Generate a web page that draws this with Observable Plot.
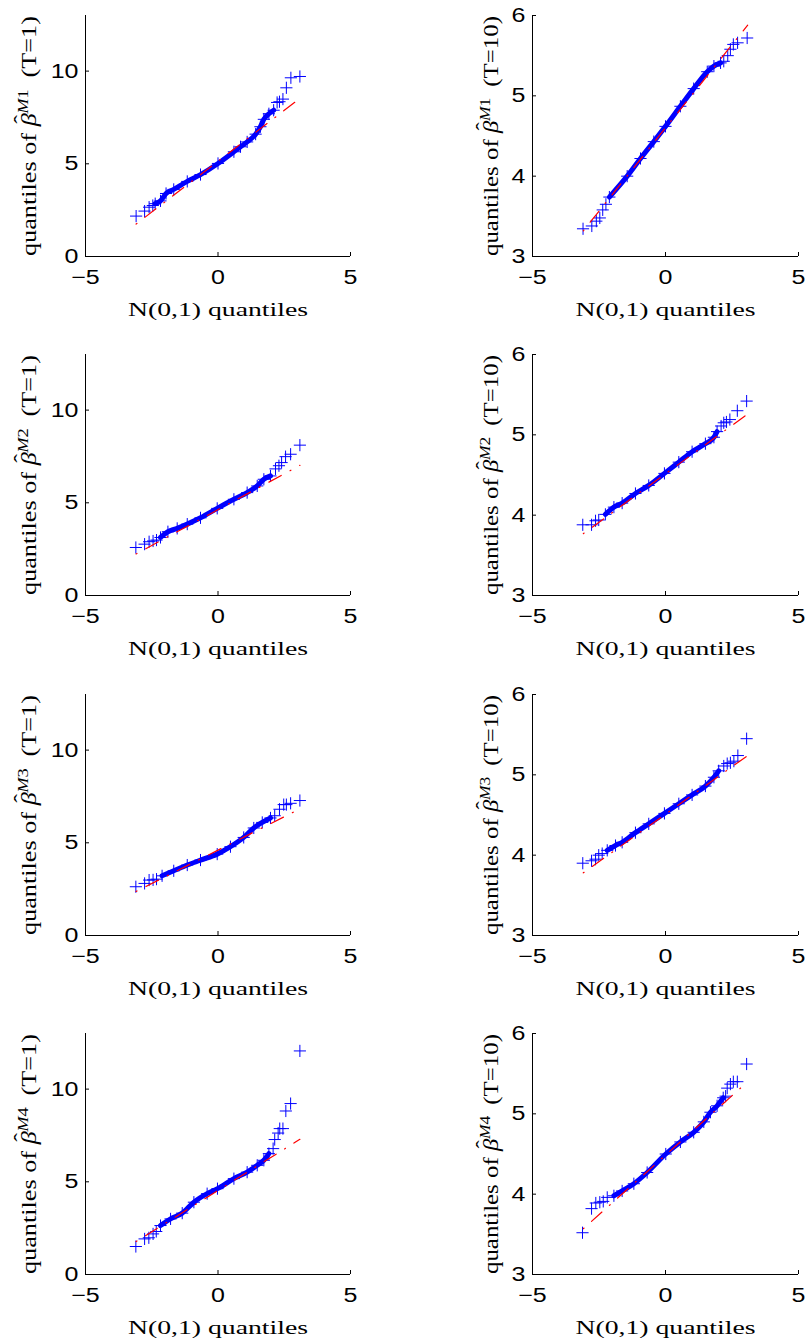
<!DOCTYPE html>
<html><head><meta charset="utf-8">
<script src="https://cdn.jsdelivr.net/npm/d3@7"></script>
<script src="https://cdn.jsdelivr.net/npm/@observablehq/plot@0.6"></script>
<style>
body{margin:0;background:#fff;}
#wrap{position:relative;width:806px;height:1343px;overflow:hidden;}
#wrap svg{position:absolute;}
</style></head><body><div id="wrap"></div>
<script>
// ---- tick labels / scales ----
const xTicks = [-5, 0, 5];
const yTicksT1 = [0, 5, 10];
const yTicksT10 = [3, 4, 5, 6];
const xLabel = "N(0,1) quantiles";
const modelLabels = ["M1", "M2", "M3", "M4"];
const horizonLabels = ["T=1", "T=10"];

// ---- data: [N(0,1) quantile, sample quantile] ----
// M1, T=1
const m1t1Tails = [[-3.09,2.18],[-2.77,2.45],[-2.6,2.66],[-2.46,2.75],[2.23,8.31],[2.32,8.35],[2.45,8.49],[2.58,9.10],[2.75,9.64],[3.09,9.71]];
const m1t1Band = [[-2.37,2.85],[-2.17,3.0],[-1.96,3.4],[-1.67,3.62],[-1.16,4.05],[-0.66,4.42],[0,5.02],[0.6,5.65],[0.85,5.92],[1.1,6.18],[1.42,6.6],[1.6,7.0],[1.73,7.4],[1.92,7.7],[2.1,7.89]];
const m1t1Ref = [[-3.09,1.75],[3.09,8.53]];
// M1, T=10
const m1t10Tails = [[-3.1,3.345],[-2.77,3.38],[-2.6,3.44],[-2.47,3.48],[-2.36,3.58],[-2.24,3.65],[2.19,5.43],[2.34,5.50],[2.44,5.58],[2.55,5.64],[2.71,5.66],[3.07,5.72]];
const m1t10Band = [[-2.11,3.74],[-1.44,4.0],[-0.94,4.22],[-0.44,4.43],[0,4.62],[0.56,4.87],[1.06,5.09],[1.57,5.3],[1.82,5.37],[2.07,5.41]];
const m1t10Ref = [[-3.09,3.32],[3.09,5.88]];
// M2, T=1
const m2t1Tails = [[-3.1,2.59],[-2.77,2.77],[-2.6,2.9],[-2.45,2.94],[-2.32,2.99],[2.17,6.83],[2.3,7.0],[2.4,7.17],[2.55,7.49],[2.74,7.62],[3.09,8.11]];
const m2t1Band = [[-2.17,3.13],[-1.89,3.44],[-1.54,3.62],[-1.16,3.85],[-0.66,4.19],[-0.03,4.70],[0.6,5.19],[1.1,5.55],[1.48,5.91],[1.73,6.27],[1.98,6.45]];
const m2t1Ref = [[-3.09,2.24],[3.09,7.02]];
// M2, T=10
const m2t10Tails = [[-3.11,3.88],[-2.78,3.88],[-2.63,3.93],[-2.51,3.94],[2.09,5.11],[2.19,5.15],[2.29,5.16],[2.42,5.19],[2.7,5.30],[3.05,5.42]];
const m2t10Band = [[-2.26,4.01],[-1.94,4.10],[-1.63,4.15],[-1.13,4.27],[-0.63,4.37],[-0.04,4.52],[0.5,4.66],[1.0,4.79],[1.5,4.89],[1.82,4.97],[1.94,5.04]];
const m2t10Ref = [[-3.09,3.77],[3.09,5.26]];
// M3, T=1
const m3t1Tails = [[-3.1,2.63],[-2.77,2.81],[-2.6,2.99],[-2.45,3.0],[-2.32,3.04],[2.14,6.46],[2.32,6.81],[2.48,7.06],[2.58,7.06],[2.74,7.13],[3.09,7.28]];
const m3t1Band = [[-2.11,3.22],[-1.67,3.49],[-1.16,3.8],[-0.66,4.07],[-0.03,4.39],[0.47,4.79],[0.97,5.29],[1.35,5.8],[1.67,6.1],[1.98,6.34]];
const m3t1Ref = [[-3.09,2.38],[3.09,6.83]];
// M3, T=10
const m3t10Tails = [[-3.11,3.90],[-2.78,3.93],[-2.63,3.95],[-2.51,4.0],[-2.38,4.02],[2.19,5.11],[2.32,5.14],[2.44,5.15],[2.57,5.17],[2.72,5.24],[3.05,5.45]];
const m3t10Band = [[-2.19,4.06],[-1.88,4.12],[-1.63,4.16],[-1.13,4.28],[-0.63,4.39],[-0.04,4.52],[0.5,4.64],[1.0,4.75],[1.5,4.86],[1.82,4.97],[2.0,5.05]];
const m3t10Ref = [[-3.09,3.78],[3.09,5.24]];
// M4, T=1
const m4t1Tails = [[-3.1,1.51],[-2.77,1.92],[-2.61,1.98],[-2.45,2.19],[-2.33,2.32],[2.08,6.79],[2.14,7.28],[2.27,7.63],[2.33,7.87],[2.45,7.87],[2.56,8.82],[2.74,9.22],[3.09,12.06]];
const m4t1Band = [[-2.17,2.64],[-1.79,3.0],[-1.35,3.31],[-0.91,3.9],[-0.41,4.36],[-0.02,4.63],[0.6,5.17],[1.1,5.52],[1.48,5.89],[1.73,6.16],[1.92,6.52]];
const m4t1Ref = [[-3.09,1.78],[3.09,7.29]];
// M4, T=10
const m4t10Tails = [[-3.12,3.52],[-2.78,3.82],[-2.62,3.89],[-2.47,3.90],[-2.34,3.91],[-2.19,3.96],[2.26,5.22],[2.32,5.32],[2.44,5.37],[2.55,5.40],[2.7,5.40],[3.05,5.62]];
const m4t10Band = [[-1.94,3.98],[-1.63,4.04],[-1.19,4.13],[-0.69,4.27],[0.01,4.5],[0.56,4.65],[1.06,4.77],[1.44,4.9],[1.69,5.02],[1.94,5.1],[2.17,5.2]];
const m4t10Ref = [[-3.09,3.57],[3.09,5.40]];

const panels = [
  {m:0,t:0,tails:m1t1Tails,band:m1t1Band,ref:m1t1Ref},
  {m:0,t:1,tails:m1t10Tails,band:m1t10Band,ref:m1t10Ref},
  {m:1,t:0,tails:m2t1Tails,band:m2t1Band,ref:m2t1Ref},
  {m:1,t:1,tails:m2t10Tails,band:m2t10Band,ref:m2t10Ref},
  {m:2,t:0,tails:m3t1Tails,band:m3t1Band,ref:m3t1Ref},
  {m:2,t:1,tails:m3t10Tails,band:m3t10Band,ref:m3t10Ref},
  {m:3,t:0,tails:m4t1Tails,band:m4t1Band,ref:m4t1Ref},
  {m:3,t:1,tails:m4t10Tails,band:m4t10Band,ref:m4t10Ref}
];

const serif = "'Liberation Serif', 'Times New Roman', serif";
const sans = "'Liberation Sans', Arial, Helvetica, sans-serif";
const BLUE = "#0000ff", RED = "#ff0000";
const wrap = document.getElementById("wrap");
const fmt = d3.format("d");

for (const p of panels) {
  const left = p.t === 0;
  const yDomain = left ? [0, 13] : [3, 6];
  const yTicks = left ? yTicksT1 : yTicksT10;
  const W = 403, H = 339;
  const svg = Plot.plot({
    width: W, height: H,
    marginLeft: left ? 85 : 129, marginRight: left ? 53 : 8,
    marginTop: 15, marginBottom: 83,
    x: {domain: [-5, 5], axis: null},
    y: {domain: yDomain, axis: null},
    style: {fontFamily: sans, fontSize: "20px", color: "#000", background: "transparent", overflow: "visible"},
    marks: [
      Plot.ruleY([yDomain[0]], {stroke: "#000", strokeWidth: 1}),
      Plot.ruleX([-5], {stroke: "#000", strokeWidth: 1}),
      Plot.axisX(xTicks, {tickSize: -4, fill: "none", stroke: "#000"}),
      Plot.axisX(xTicks, {tickSize: 0, tickPadding: 13, fill: "#000", fontSize: 20, tickFormat: fmt}),
      Plot.axisY(yTicks, {tickSize: -4, fill: "none", stroke: "#000"}),
      Plot.axisY(yTicks, {tickSize: 0, tickPadding: 7, fill: "#000", fontSize: 20, tickFormat: fmt}),
      Plot.line(p.band, {x: d => d[0], y: d => d[1], stroke: BLUE, strokeWidth: 5, strokeLinecap: "round", strokeLinejoin: "round", curve: "monotone-x"}),
      Plot.dot(p.band.concat(p.tails), {x: d => d[0], y: d => d[1], symbol: "plus", r: 4, stroke: BLUE, strokeWidth: 1}),
      Plot.line(p.ref, {x: d => d[0], y: d => d[1], stroke: RED, strokeWidth: 1.2, strokeDasharray: "1,10,14,10"}),
      Plot.text([xLabel], {frameAnchor: "bottom", dy: 59, lineAnchor: "bottom", fontFamily: serif, fontSize: 19, fill: "#000"}),
      Plot.text(["YLABEL"], {frameAnchor: "left", dx: left ? -56 : -41, rotate: -90, lineAnchor: "middle", textAnchor: "middle", fontFamily: serif, fontSize: 20, fill: "#000"})
    ]
  });
  svg.style.left = (left ? 0 : 403) + "px";
  svg.style.top = Math.round(p.m * 339.3) + "px";
  wrap.appendChild(svg);
  const sel = d3.select(svg);
  // y label with hatted beta and superscript model name
  const t = sel.selectAll("text").filter(function() { return this.textContent === "YLABEL"; });
  t.text(null);
  t.append("tspan").text("quantiles of ");
  t.append("tspan").attr("font-style", "italic").text("\u03B2");
  t.append("tspan").attr("dx", "-8").attr("dy", "-7").text("\u02C6");
  t.append("tspan").attr("font-style", "italic").attr("font-size", "14px").attr("dy", "-1").attr("dx", "1").text(modelLabels[p.m].charAt(0));
  t.append("tspan").attr("font-size", "14px").text(modelLabels[p.m].slice(1));
  t.append("tspan").attr("dy", "8").attr("dx", "9").text("(" + horizonLabels[p.t] + ")");
  t.attr("textLength", 240).attr("lengthAdjust", "spacingAndGlyphs");
  // x label: stretched like the reference
  sel.selectAll("text").filter(function() { return this.textContent === xLabel; })
    .attr("textLength", 180).attr("lengthAdjust", "spacingAndGlyphs");
  // tick labels: widen glyphs
  sel.selectAll('g[aria-label="x-axis tick label"] text, g[aria-label="y-axis tick label"] text').each(function() {
    const len = this.getComputedTextLength();
    d3.select(this).attr("textLength", len * 1.25).attr("lengthAdjust", "spacingAndGlyphs");
  });
}
</script>
</body></html>
